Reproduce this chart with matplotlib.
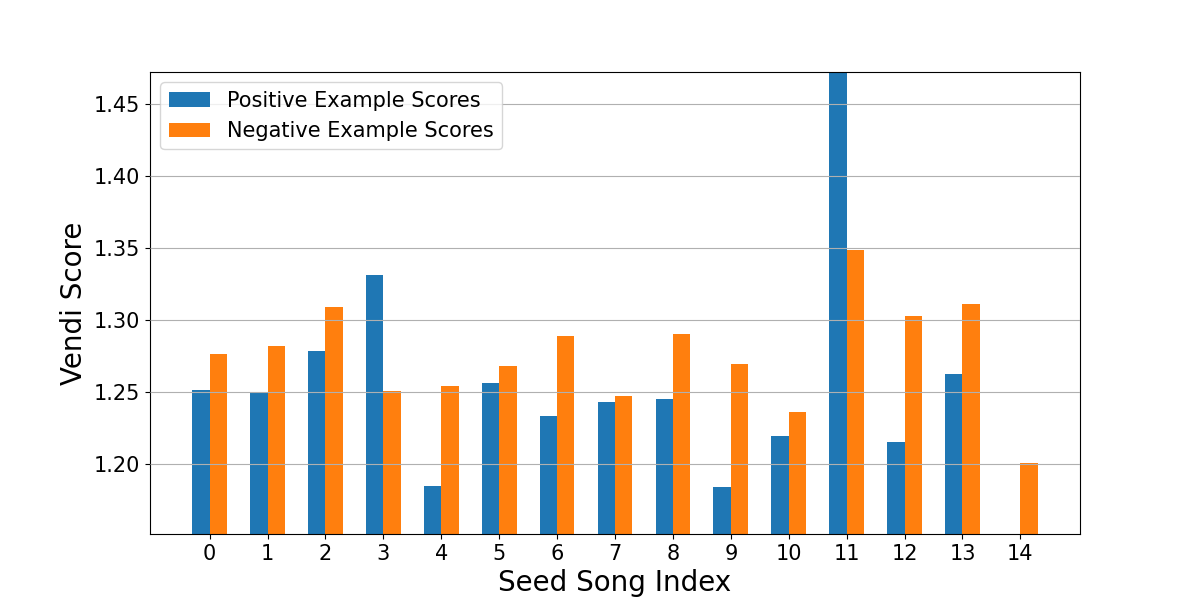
import matplotlib
matplotlib.use('Agg')
import matplotlib.pyplot as plt
import numpy as np

seed_idx = list(range(15))
pos_scores = [1.2516, 1.2500, 1.2787, 1.3310, 1.1847, 1.2565, 1.2334, 1.2432,
              1.2453, 1.1840, 1.2197, 1.4722, 1.2155, 1.2627, np.nan]
neg_scores = [1.2766, 1.2822, 1.3093, 1.2509, 1.2544, 1.2683, 1.2891, 1.2474,
              1.2905, 1.2696, 1.2364, 1.3488, 1.3030, 1.3114, 1.2009]

x = np.arange(len(seed_idx))
w = 0.3

fig, ax = plt.subplots(figsize=(12, 6), dpi=100)
ax.bar(x - w/2, pos_scores, w, label='Positive Example Scores', color='#1f77b4')
ax.bar(x + w/2, neg_scores, w, label='Negative Example Scores', color='#ff7f0e')

ax.set_xticks(x)
ax.set_xticklabels([str(i) for i in seed_idx])
ax.tick_params(axis='both', labelsize=15)
ax.set_ylim(1.1514, 1.4722)
ax.set_xlabel('Seed Song Index', fontsize=20)
ax.set_ylabel('Vendi Score', fontsize=20)
ax.yaxis.grid(True, color='#b0b0b0')
ax.set_axisbelow(False)
ax.legend(loc='upper left', fontsize=15)

fig.savefig('out.png', dpi=100)
